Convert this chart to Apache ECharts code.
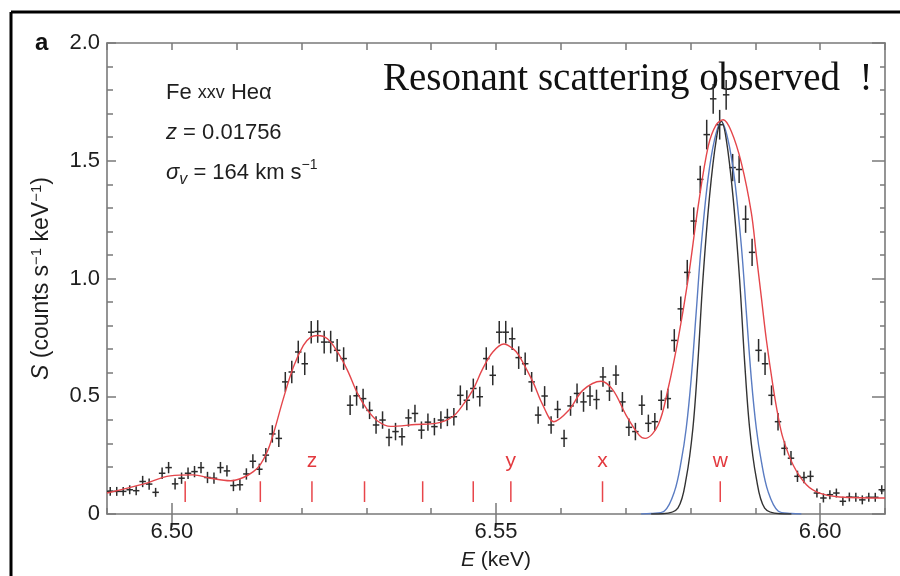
<!DOCTYPE html>
<html><head><meta charset="utf-8">
<script src="https://cdn.jsdelivr.net/npm/echarts@6/dist/echarts.min.js"></script>
<style>html,body{margin:0;padding:0;background:#fff}#c{width:900px;height:576px}</style>
</head><body><div id="c"></div>
<script>
// ---- observed spectrum (bin centre keV, counts s^-1 keV^-1, 1-sigma error) ----
const energies = [
6.4905,6.4915,6.4925,6.4935,6.4945,6.4955,6.4965,6.4975,6.4985,6.4995,
6.5005,6.5015,6.5025,6.5035,6.5045,6.5055,6.5065,6.5075,6.5085,6.5095,
6.5105,6.5115,6.5125,6.5135,6.5145,6.5155,6.5165,6.5175,6.5185,6.5195,
6.5205,6.5215,6.5225,6.5235,6.5245,6.5255,6.5265,6.5275,6.5285,6.5295,
6.5305,6.5315,6.5325,6.5335,6.5345,6.5355,6.5365,6.5375,6.5385,6.5395,
6.5405,6.5415,6.5425,6.5435,6.5445,6.5455,6.5465,6.5475,6.5485,6.5495,
6.5505,6.5515,6.5525,6.5535,6.5545,6.5555,6.5565,6.5575,6.5585,6.5595,
6.5605,6.5615,6.5625,6.5635,6.5645,6.5655,6.5665,6.5675,6.5685,6.5695,
6.5705,6.5715,6.5725,6.5735,6.5745,6.5755,6.5765,6.5775,6.5785,6.5795,
6.5805,6.5815,6.5825,6.5835,6.5845,6.5855,6.5865,6.5875,6.5885,6.5895,
6.5905,6.5915,6.5925,6.5935,6.5945,6.5955,6.5965,6.5975,6.5985,6.5995,
6.6005,6.6015,6.6025,6.6035,6.6045,6.6055,6.6065,6.6075,6.6085,6.6095];
const counts = [
0.096,0.096,0.096,0.103,0.099,0.138,0.127,0.092,0.173,0.197,
0.128,0.152,0.173,0.180,0.197,0.155,0.152,0.197,0.183,0.121,
0.124,0.170,0.224,0.190,0.250,0.340,0.321,0.561,0.603,0.688,
0.638,0.772,0.775,0.730,0.730,0.695,0.660,0.462,0.502,0.490,
0.440,0.378,0.399,0.325,0.350,0.328,0.408,0.427,0.356,0.390,
0.371,0.399,0.410,0.413,0.504,0.483,0.533,0.498,0.660,0.589,
0.772,0.772,0.744,0.664,0.638,0.561,0.420,0.501,0.378,0.444,
0.321,0.459,0.512,0.476,0.501,0.486,0.582,0.522,0.590,0.476,
0.368,0.350,0.462,0.385,0.392,0.483,0.490,0.737,0.871,1.026,
1.244,1.421,1.611,1.763,1.653,1.780,1.471,1.463,1.252,1.111,
0.695,0.638,0.504,0.392,0.279,0.237,0.160,0.155,0.160,0.089,
0.068,0.082,0.089,0.054,0.072,0.071,0.060,0.071,0.071,0.103];
const errors = [
0.019,0.019,0.019,0.019,0.019,0.024,0.024,0.019,0.024,0.024,
0.024,0.024,0.024,0.024,0.024,0.024,0.024,0.024,0.024,0.024,
0.024,0.024,0.030,0.024,0.030,0.037,0.037,0.042,0.048,0.048,
0.048,0.048,0.048,0.048,0.048,0.048,0.048,0.042,0.042,0.042,
0.037,0.037,0.037,0.037,0.037,0.037,0.037,0.037,0.037,0.037,
0.037,0.037,0.037,0.037,0.042,0.042,0.042,0.042,0.048,0.042,
0.048,0.048,0.048,0.048,0.048,0.042,0.037,0.042,0.037,0.037,
0.037,0.042,0.042,0.042,0.042,0.042,0.042,0.042,0.042,0.042,
0.037,0.037,0.042,0.037,0.037,0.042,0.042,0.048,0.053,0.053,
0.058,0.058,0.063,0.063,0.063,0.063,0.058,0.058,0.058,0.058,
0.048,0.048,0.042,0.037,0.030,0.030,0.024,0.024,0.024,0.019,
0.019,0.019,0.019,0.019,0.019,0.019,0.019,0.019,0.019,0.019];
const binHalfWidth = 0.0005;

// ---- best-fit model (red) ----
const modelE = [6.4900,6.49556,6.49974,6.50329,6.50592,6.50901,6.51102,6.51257,6.51365,6.51473,
6.51566,6.51720,6.51875,6.52029,6.52138,6.52246,6.52400,6.52555,6.52709,6.52864,
6.53019,6.53173,6.53374,6.53760,6.54070,6.54332,6.54487,6.54641,6.54796,6.54951,
6.55121,6.55260,6.55352,6.55569,6.55723,6.55893,6.56125,6.56342,6.56620,6.56805,
6.57006,6.57207,6.57300,6.57501,6.57655,6.57810,6.57964,6.58119,6.58274,6.58397,
6.58505,6.58629,6.58784,6.58938,6.59015,6.59093,6.59170,6.59274,6.59355,6.59428,
6.59583,6.59788,6.59989,6.60298,6.6100];
const modelS = [0.089,0.127,0.162,0.166,0.152,0.141,0.155,0.180,0.210,0.265,
0.340,0.490,0.624,0.716,0.750,0.758,0.744,0.688,0.610,0.512,
0.441,0.395,0.372,0.380,0.385,0.413,0.462,0.526,0.617,0.688,
0.722,0.702,0.674,0.561,0.462,0.392,0.441,0.526,0.564,0.526,
0.420,0.335,0.321,0.378,0.533,0.744,0.998,1.308,1.562,1.653,
1.674,1.625,1.491,1.280,1.100,0.920,0.740,0.540,0.410,0.321,
0.208,0.124,0.089,0.072,0.068];

// ---- w line without scattering (blue) and with thermal-only width (black) ----
const blueE = [6.57238,6.57393,6.57598,6.57753,6.57856,6.57934,6.58011,6.58088,6.58165,6.58269,6.58371,6.58475,
6.58578,6.58680,6.58784,6.58861,6.58938,6.59015,6.59093,6.59196,6.59351,6.59556,6.59710];
const blueS = [0,0.002,0.013,0.096,0.223,0.364,0.575,0.857,1.139,1.421,1.590,1.667,
1.590,1.421,1.139,0.857,0.575,0.364,0.223,0.096,0.013,0.002,0];
const blackE = [6.57393,6.57573,6.57805,6.57934,6.58037,6.58114,6.58192,6.58294,6.58397,6.58475,
6.58552,6.58655,6.58757,6.58835,6.58912,6.59015,6.59144,6.59376,6.59556];
const blackS = [0,0.001,0.025,0.152,0.364,0.646,0.998,1.350,1.590,1.667,
1.590,1.350,0.998,0.646,0.364,0.152,0.025,0.001,0];

// ---- line identifications ----
const lineE = [6.50206,6.51365,6.52161,6.52972,6.53869,6.54649,6.55229,6.56643,6.58459];
const lineLabels = ['','','z','','','','y','x','w'];
const markLow = 0.051, markHigh = 0.139, markLabelS = 0.224;

const xMajor = [6.50, 6.55, 6.60];
const yMin = 0, yMax = 2, yStep = 0.5;
const xMin = 6.49, xMax = 6.61, xMinorStep = 0.01;

const zip = (a, b) => a.map((v, i) => [v, b[i]]);
const obs = energies.map((e, i) => [e, counts[i], errors[i]]);

const axisGray = '#7a7a7a';
const txt = '#1e1e1e';
const font = 'Liberation Sans, Arial, sans-serif';
const chart = echarts.init(document.getElementById('c'), null, {renderer: 'canvas'});

const baseX = {type: 'value', min: xMin, max: xMax, splitLine: {show: false}};
chart.setOption({
  animation: false,
  backgroundColor: '#fff',
  grid: {left: 107, right: 15, top: 43, bottom: 60},
  xAxis: [
    Object.assign({}, baseX, {
      position: 'bottom',
      axisLine: {show: true, onZero: false, lineStyle: {color: axisGray, width: 1.6}},
      axisTick: {show: true, inside: true, length: 11, customValues: xMajor, lineStyle: {color: axisGray, width: 1.5}},
      axisLabel: {show: true, customValues: xMajor, formatter: v => v.toFixed(2), fontSize: 22, color: txt, fontFamily: font, margin: 7},
      name: '{i|E} (keV)', nameLocation: 'middle', nameGap: 36,
      nameTextStyle: {fontSize: 21, color: txt, fontFamily: font, rich: {i: {fontStyle: 'italic', fontSize: 21, color: txt, fontFamily: font}}}
    }),
    Object.assign({}, baseX, {
      position: 'bottom', interval: xMinorStep,
      axisLine: {show: false}, axisLabel: {show: false},
      axisTick: {show: true, inside: true, length: 6, lineStyle: {color: axisGray, width: 1.5}}
    }),
    Object.assign({}, baseX, {
      position: 'top', interval: xMinorStep,
      axisLine: {show: true, onZero: false, lineStyle: {color: axisGray, width: 1.6}}, axisLabel: {show: false},
      axisTick: {show: true, inside: true, length: 7, lineStyle: {color: axisGray, width: 1.5}}
    }),
    Object.assign({}, baseX, {
      position: 'top',
      axisLine: {show: false}, axisLabel: {show: false},
      axisTick: {show: true, inside: true, length: 13, customValues: xMajor, lineStyle: {color: axisGray, width: 1.5}}
    })
  ],
  yAxis: [
    {
      type: 'value', min: yMin, max: yMax, interval: yStep, position: 'left',
      splitLine: {show: false},
      axisLine: {show: true, onZero: false, lineStyle: {color: axisGray, width: 1.6}},
      axisTick: {show: true, inside: true, length: 9, lineStyle: {color: axisGray, width: 1.5}},
      minorTick: {show: true, splitNumber: 5, length: 6, lineStyle: {color: axisGray, width: 1.5}},
      axisLabel: {formatter: v => v === 0 ? '0' : v.toFixed(1), fontSize: 22, color: txt, fontFamily: font, margin: 7},
      name: '{i|S} (counts s{s|−1} keV{s|−1})', nameLocation: 'middle', nameGap: 52, nameRotate: 90,
      nameTextStyle: {fontSize: 23, color: txt, fontFamily: font,
        rich: {i: {fontStyle: 'italic', fontSize: 23, color: txt, fontFamily: font},
               s: {fontSize: 15, color: txt, fontFamily: font, verticalAlign: 'top', lineHeight: 26}}}
    },
    {
      type: 'value', min: yMin, max: yMax, interval: yStep, position: 'right',
      splitLine: {show: false},
      axisLine: {show: true, onZero: false, lineStyle: {color: axisGray, width: 1.6}},
      axisTick: {show: true, inside: true, length: 13, lineStyle: {color: axisGray, width: 1.5}},
      minorTick: {show: true, splitNumber: 5, length: 5, lineStyle: {color: axisGray, width: 1.5}},
      axisLabel: {show: false}
    }
  ],
  series: [
    {
      type: 'custom', name: 'lines', xAxisIndex: 0, yAxisIndex: 0, data: lineE.map(e => [e]),
      renderItem: (params, api) => {
        const e = api.value(0);
        const lo = api.coord([e, markLow]), hi = api.coord([e, markHigh]);
        const children = [{type: 'line', shape: {x1: lo[0], y1: lo[1], x2: hi[0], y2: hi[1]}, style: {stroke: '#e8454a', lineWidth: 1.5}}];
        const lab = lineLabels[params.dataIndex];
        if (lab) {
          const p = api.coord([e, markLabelS]);
          children.push({type: 'text', x: p[0], y: p[1], style: {text: lab, fill: '#e33a3f', font: '21px ' + font, align: 'center', verticalAlign: 'middle'}});
        }
        return {type: 'group', children};
      }
    },
    {
      type: 'custom', name: 'data', xAxisIndex: 0, yAxisIndex: 0, data: obs,
      renderItem: (params, api) => {
        const e = api.value(0), s = api.value(1), er = api.value(2);
        const l = api.coord([e - binHalfWidth, s]), r = api.coord([e + binHalfWidth, s]);
        const t = api.coord([e, s + er]), b = api.coord([e, s - er]);
        const st = {stroke: '#2b2b2b', lineWidth: 1.5};
        return {type: 'group', children: [
          {type: 'line', shape: {x1: l[0], y1: l[1], x2: r[0], y2: r[1]}, style: st},
          {type: 'line', shape: {x1: t[0], y1: t[1], x2: b[0], y2: b[1]}, style: st}
        ]};
      }
    },
    {type: 'line', name: 'blue', data: zip(blueE, blueS), smooth: 0.35, showSymbol: false, lineStyle: {color: '#5a7cc2', width: 1.4}},
    {type: 'line', name: 'black', data: zip(blackE, blackS), smooth: 0.35, showSymbol: false, lineStyle: {color: '#333', width: 1.4}},
    {type: 'line', name: 'model', data: zip(modelE, modelS), smooth: 0.35, showSymbol: false, lineStyle: {color: '#e4464b', width: 1.4}}
  ],
  graphic: [
    {type: 'line', shape: {x1: 11, y1: 12, x2: 900, y2: 12}, style: {stroke: '#000', lineWidth: 3}},
    {type: 'line', shape: {x1: 11, y1: 12, x2: 11, y2: 576}, style: {stroke: '#000', lineWidth: 3}},
    {type: 'text', x: 35, y: 43, style: {text: 'a', font: 'bold 24px ' + font, fill: '#111', verticalAlign: 'middle'}},
    {type: 'text', x: 166, y: 93, style: {text: 'Fe {sc|xxv} He\u03b1', font: '22px ' + font, fill: txt, verticalAlign: 'middle',
      rich: {sc: {fontSize: 18, fontFamily: font, fill: txt}}}},
    {type: 'text', x: 166, y: 133, style: {text: '{i|z} = 0.01756', font: '22px ' + font, fill: txt, verticalAlign: 'middle',
      rich: {i: {fontStyle: 'italic', fontSize: 22, fontFamily: font, fill: txt}}}},
    {type: 'text', x: 166, y: 173, style: {text: '{i|\u03c3}{sub|v} = 164 km s{sup|\u22121}', font: '22px ' + font, fill: txt, verticalAlign: 'middle',
      rich: {i: {fontStyle: 'italic', fontSize: 22, fontFamily: font, fill: txt, lineHeight: 30},
             sub: {fontStyle: 'italic', fontSize: 16, fontFamily: font, fill: txt, verticalAlign: 'bottom', lineHeight: 14},
             sup: {fontSize: 14, fontFamily: font, fill: txt, verticalAlign: 'top', lineHeight: 14}}}},
    {type: 'text', x: 383, y: 80, style: {text: 'Resonant scattering observed  !', font: '39px Liberation Serif, Times New Roman, serif', fill: '#111', verticalAlign: 'middle'}}
  ]
});
</script></body></html>
